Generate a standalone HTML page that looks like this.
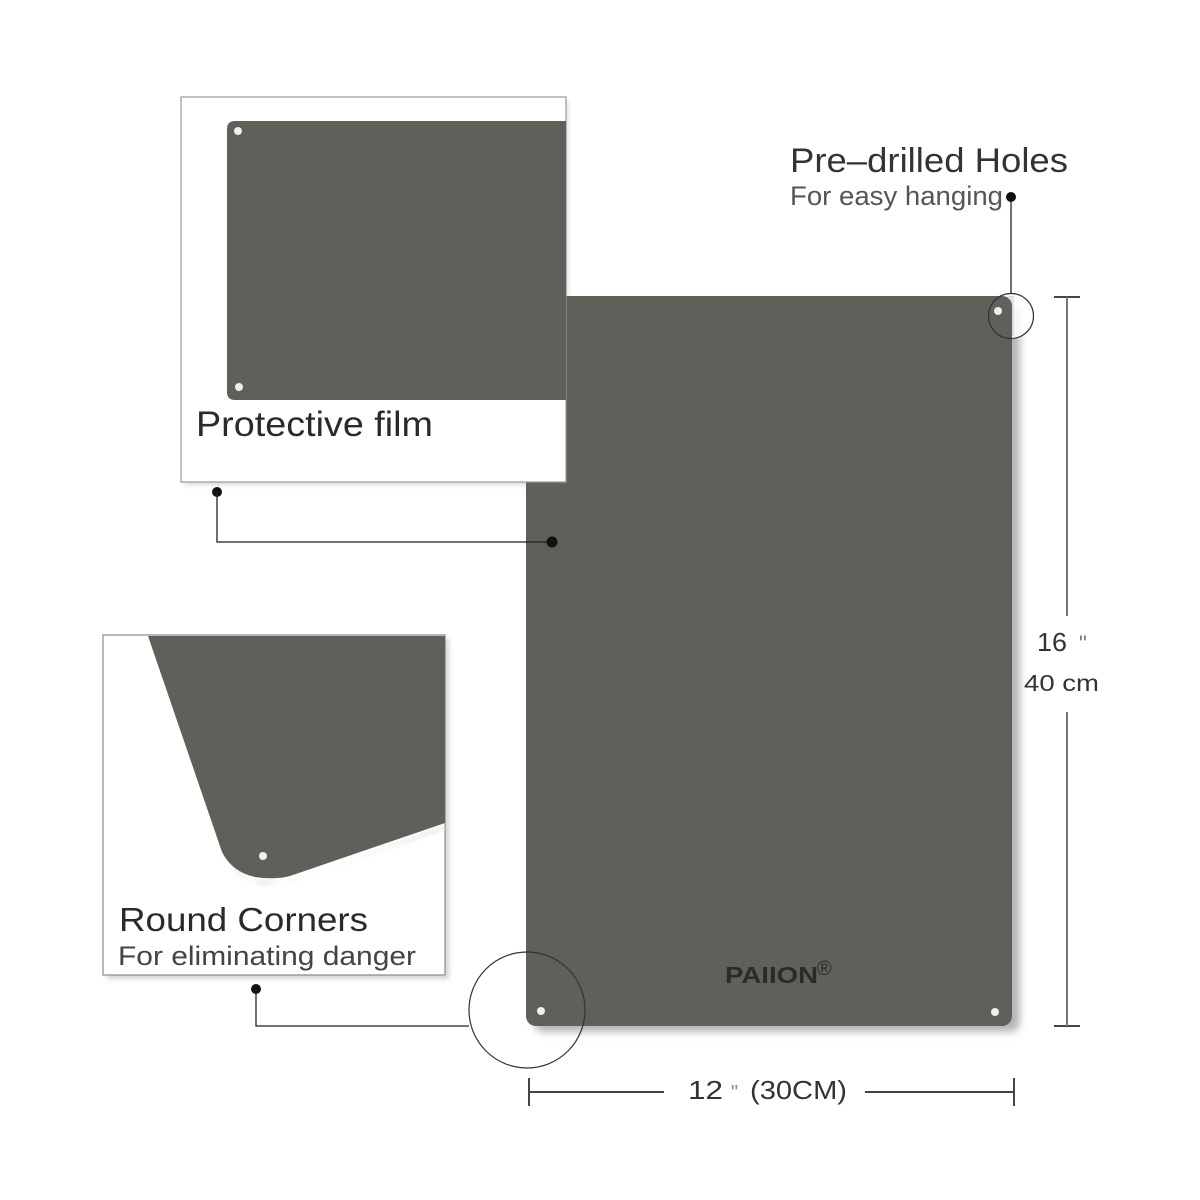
<!DOCTYPE html>
<html>
<head>
<meta charset="utf-8">
<style>
html,body{margin:0;padding:0;background:#fff;}
svg{display:block;}
text{font-family:"Liberation Sans",sans-serif;}
</style>
</head>
<body>
<svg width="1200" height="1200" viewBox="0 0 1200 1200" xmlns="http://www.w3.org/2000/svg">
<defs>
<filter id="b" x="-10%" y="-10%" width="120%" height="120%"><feGaussianBlur stdDeviation="4"/></filter>
<filter id="s" x="-10%" y="-10%" width="120%" height="120%"><feGaussianBlur stdDeviation="2.5"/></filter>
<filter id="soft" x="-5%" y="-5%" width="110%" height="110%"><feGaussianBlur stdDeviation="0.5"/></filter>
</defs>
<rect width="1200" height="1200" fill="#fff"/>

<!-- shadows behind everything -->
<rect x="534" y="302" width="486" height="730" rx="10" fill="#b5b5b5" filter="url(#b)"/>
<rect x="184" y="101" width="384" height="384" fill="#dcdcdc" filter="url(#s)"/>

<!-- main panel -->
<rect x="526" y="296" width="486" height="730" rx="10" fill="#5f605a"/>
<circle cx="998" cy="311" r="4" fill="#f0efe8"/>
<circle cx="541" cy="1011" r="4" fill="#f0efe8"/>
<circle cx="995" cy="1012" r="4" fill="#f0efe8"/>
<text x="725" y="983" font-size="23" font-weight="bold" fill="#2b2b27" textLength="93" lengthAdjust="spacingAndGlyphs">PAIION</text>
<text x="817" y="975" font-size="20" fill="#2b2b27">®</text>

<!-- film box -->
<rect x="181" y="97" width="385" height="385" fill="#fff" stroke="#9a9a9a" stroke-width="1.2"/>
<path d="M566 121H235Q227 121 227 129V392Q227 400 235 400H566Z" fill="#5f605a"/>
<circle cx="238" cy="131" r="4" fill="#f0efe8"/>
<circle cx="239" cy="387" r="4" fill="#f0efe8"/>
<text x="196" y="436" font-size="35" fill="#2a2a2a" textLength="237" lengthAdjust="spacingAndGlyphs">Protective film</text>

<!-- corner box -->
<rect x="107" y="639" width="342" height="340" fill="#d5d5d5" filter="url(#s)"/>
<rect x="103" y="635" width="342" height="340" fill="#fff" stroke="#8a8a8a" stroke-width="1.2"/>
<path d="M222 858L226 861L240 875L262 884L290 881L444 829V826L290 882L250 880Z" fill="#ddd" filter="url(#s)"/>
<path d="M148 636H445V823L290 876Q275 880 255 877Q232 872 222 852Z" fill="#5f605a"/>
<circle cx="263" cy="856" r="4" fill="#f0efe8"/>
<text x="119" y="931" font-size="33" fill="#2a2a2a" textLength="249" lengthAdjust="spacingAndGlyphs">Round Corners</text>
<text x="118" y="965" font-size="26.5" fill="#444" textLength="298" lengthAdjust="spacingAndGlyphs">For eliminating danger</text>

<!-- connectors -->
<circle cx="217" cy="492" r="5" fill="#111"/>
<path d="M217 492V542H552" fill="none" stroke="#222" stroke-width="1.3"/>
<circle cx="552" cy="542" r="5.5" fill="#111"/>
<circle cx="256" cy="989" r="5" fill="#111"/>
<path d="M256 989V1026H469" fill="none" stroke="#222" stroke-width="1.3"/>
<circle cx="527" cy="1010" r="58" fill="none" stroke="#333" stroke-width="1.2"/>
<path d="M1012 293A23 23 0 0 1 1012 339Z" fill="#fff" opacity="0.85"/>
<path d="M1012 296H1006Q1012 298 1012 304V336H1014V296Z" fill="#cfcfcf" opacity="0.6"/>
<circle cx="1011" cy="316" r="22.5" fill="none" stroke="#333" stroke-width="1.2"/>
<path d="M1011 197V294" stroke="#222" stroke-width="1.3"/>
<circle cx="1011" cy="197" r="5" fill="#111"/>

<text x="790" y="172" font-size="34" fill="#333" textLength="278" lengthAdjust="spacingAndGlyphs">Pre–drilled Holes</text>
<text x="790" y="205" font-size="27" fill="#555" textLength="213" lengthAdjust="spacingAndGlyphs">For easy hanging</text>

<!-- height dimension -->
<path d="M1054 297H1080M1054 1026H1080" fill="none" stroke="#444" stroke-width="2"/>
<path d="M1067 297V616M1067 712V1026" fill="none" stroke="#777" stroke-width="2"/>
<text x="1037" y="651" font-size="26" fill="#333" textLength="30" lengthAdjust="spacingAndGlyphs">16</text>
<text x="1079" y="651" font-size="22" fill="#777">"</text>
<text x="1024" y="691" font-size="23" fill="#333" textLength="75" lengthAdjust="spacingAndGlyphs">40 cm</text>

<!-- width dimension -->
<path d="M529 1078V1106M1014 1078V1106M529 1092H664M865 1092H1014" fill="none" stroke="#444" stroke-width="2"/>
<text x="688" y="1099" font-size="26" fill="#333" textLength="35" lengthAdjust="spacingAndGlyphs">12</text>
<text x="731" y="1099" font-size="20" fill="#888">"</text>
<text x="750" y="1099" font-size="26" fill="#333" textLength="97" lengthAdjust="spacingAndGlyphs">(30CM)</text>
</svg>
</body>
</html>
